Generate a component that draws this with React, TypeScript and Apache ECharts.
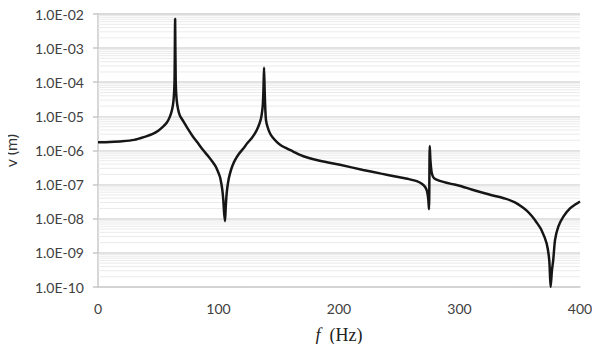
import React, { useEffect, useRef } from "react";
import * as echarts from "echarts";

const freqHz: number[] = [
  0, 10, 20, 30, 40, 45, 50, 54, 57, 59.5, 61.5, 62.7, 63.5, 64, 64.5, 65.3, 66.5, 68, 71, 75, 79, 83.2, 87, 91.5, 95, 97, 99, 101.2,
  102.3, 103.2, 104, 104.6, 105.4, 106, 106.8, 108, 109.5, 111.5, 113.7, 117, 120.6, 124, 127.5, 130.5, 133, 134.8, 135.8, 136.7,
  137.3, 137.8, 138.3, 138.8, 139.4, 140.8, 142.7, 145, 148.3, 152, 156.6, 162, 167.6, 175, 184, 192, 200.8, 220, 235, 248, 258,
  265, 269, 271.5, 273, 274, 274.7, 275.3, 275.9, 276.8, 278, 280, 286.6, 293, 300, 310, 324, 338, 346, 352, 356, 360, 364, 368,
  372.3, 374.5, 375.6, 376.7, 377.8, 379.3, 382, 386.2, 391.7, 396, 400,
];

const displacementM: number[] = [
  1.74e-6, 1.78e-6, 1.86e-6, 2.05e-6, 2.6e-6, 3.0e-6, 3.8e-6, 5e-6, 6.5e-6, 9.5e-6, 1.6e-5, 3e-5, 1e-4, 7.3e-3, 1e-4, 3e-5, 1.6e-5,
  1.05e-5, 7.0e-6, 4.1e-6, 2.5e-6, 1.6e-6, 1.05e-6, 6.8e-7, 4.7e-7, 3.7e-7, 2.7e-7, 1.7e-7, 1.1e-7, 6.9e-8, 3.5e-8, 1.6e-8, 8.5e-9,
  2.2e-8, 5.6e-8, 1.2e-7, 2.1e-7, 3.5e-7, 5.2e-7, 8e-7, 1.15e-6, 1.65e-6, 2.3e-6, 3.3e-6, 5e-6, 7.5e-6, 1.1e-5, 2e-5, 6e-5, 2.7e-4,
  6e-5, 1.8e-5, 7.8e-6, 4.8e-6, 3.2e-6, 2.4e-6, 1.8e-6, 1.4e-6, 1.15e-6, 9.3e-7, 7.4e-7, 6e-7, 5e-7, 4.4e-7, 3.8e-7, 2.7e-7, 2.1e-7,
  1.7e-7, 1.45e-7, 1.25e-7, 1.05e-7, 8.5e-8, 6.5e-8, 4e-8, 1.9e-8, 1.36e-6, 5e-7, 2.4e-7, 1.7e-7, 1.45e-7, 1.2e-7, 1.05e-7, 9.3e-8,
  7.2e-8, 5.2e-8, 3.9e-8, 3e-8, 2.2e-8, 1.7e-8, 1.2e-8, 7.8e-9, 4.7e-9, 1.9e-9, 6e-10, 1e-10, 3e-10, 6.2e-10, 2.4e-9, 5.9e-9,
  1.15e-8, 2.0e-8, 2.6e-8, 3.2e-8,
];

const xTicks: number[] = [0, 100, 200, 300, 400];
const decadeExponents: number[] = [-10, -9, -8, -7, -6, -5, -4, -3, -2];
const minorMultipliers: number[] = [2, 3, 4, 5, 6, 7, 8, 9];

function fmtSci(v: number): string {
  const e = Math.round(Math.log10(v));
  const m = v / Math.pow(10, e);
  const sign = e < 0 ? "-" : "+";
  const abs = Math.abs(e);
  return m.toFixed(1) + "E" + sign + (abs < 10 ? "0" + abs : String(abs));
}

export default function App() {
  const ref = useRef<HTMLDivElement>(null);
  useEffect(() => {
    if (!ref.current) return;
    const chart = echarts.init(ref.current, undefined, { renderer: "svg" });
    const data = freqHz.map((f, i) => [f, displacementM[i]]);
    const xMin = xTicks[0];
    const xMax = xTicks[xTicks.length - 1];
    const minorData: any[] = [];
    decadeExponents.slice(0, -1).forEach((e) => {
      minorMultipliers.forEach((m) => {
        const y = m * Math.pow(10, e);
        minorData.push([xMin, y], [xMax, y], [xMax, "-"]);
      });
    });
    chart.setOption({
      animation: false,
      backgroundColor: "#ffffff",
      grid: { left: 98, right: 20, top: 14, bottom: 65, outerBoundsMode: "none", containLabel: false },
      xAxis: {
        type: "value",
        min: xMin,
        max: xMax,
        interval: 100,
        name: "{i|f}  (Hz)",
        nameLocation: "middle",
        nameGap: 39,
        nameTextStyle: {
          fontFamily: "Liberation Serif",
          fontSize: 18,
          color: "#222",
          rich: {
            i: { fontFamily: "Liberation Serif", fontStyle: "italic", fontSize: 18, color: "#222" },
          },
        },
        axisLine: { show: true, lineStyle: { color: "#d0d0d0", width: 1.5 } },
        axisTick: { show: false },
        splitLine: { show: false },
        axisLabel: { margin: 14, fontFamily: "Lato", fontSize: 14, color: "#404040" },
      },
      yAxis: {
        type: "log",
        logBase: 10,
        min: 1e-10,
        max: 1e-2,
        interval: 1,
        splitNumber: 8,
        name: "v (m)",
        nameLocation: "middle",
        nameGap: 80,
        nameTextStyle: { fontFamily: "Lato", fontSize: 16, color: "#333" },
        axisLine: { show: true, lineStyle: { color: "#c8c8c8", width: 1.5 } },
        axisTick: { show: true, length: 5, lineStyle: { color: "#c8c8c8", width: 1.5 } },
        splitLine: { show: true, lineStyle: { color: "#d9d9d9", width: 1.5 } },
        axisLabel: { margin: 14, fontFamily: "Lato", fontSize: 14, color: "#404040", formatter: (v: number) => fmtSci(v) },
      },
      series: [
        {
          type: "line",
          z: 1,
          data: minorData,
          symbol: "none",
          silent: true,
          connectNulls: false,
          lineStyle: { color: "#ebebeb", width: 1 },
        },
        {
          type: "line",
          z: 3,
          data,
          showSymbol: false,
          symbol: "none",
          smooth: 0.25,
          lineStyle: { color: "#161616", width: 2.5 },
        },
      ],
    });
    return () => chart.dispose();
  }, []);
  return <div ref={ref} style={{ width: 600, height: 352, margin: -8 }} />;
}
